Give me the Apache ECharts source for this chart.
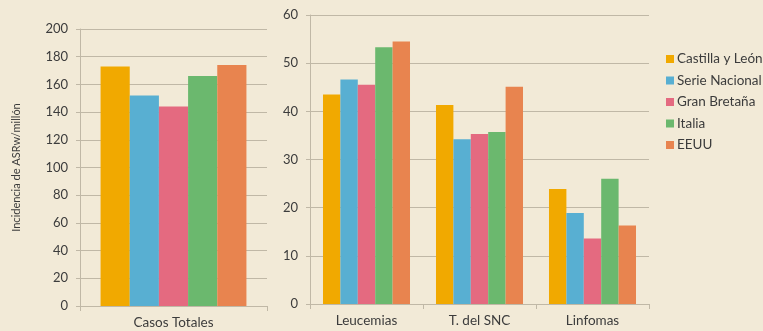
<!DOCTYPE html>
<html>
<head>
<meta charset="utf-8">
<script src="https://cdn.jsdelivr.net/npm/echarts@6/dist/echarts.min.js"></script>
<style>
  html, body { margin: 0; padding: 0; background: #f2ead7; }
  #chart { width: 763px; height: 331px; }
</style>
</head>
<body>
<div id="chart"></div>
<script>
// Incidence by region (ASRw per million)
const seriesNames = ['Castilla y León', 'Serie Nacional', 'Gran Bretaña', 'Italia', 'EEUU'];
const colors = ['#f1a900', '#58afd2', '#e46a80', '#6bb86e', '#e8844f'];

const totalCategories = ['Casos Totales'];
const totalValues = [
  [173],   // Castilla y León
  [152],   // Serie Nacional
  [144],   // Gran Bretaña
  [166],   // Italia
  [174]    // EEUU
];

const groupCategories = ['Leucemias', 'T. del SNC', 'Linfomas'];
const groupValues = [
  [43.5, 41.3, 23.9],  // Castilla y León
  [46.6, 34.2, 18.9],  // Serie Nacional
  [45.5, 35.3, 13.6],  // Gran Bretaña
  [53.3, 35.7, 26.0],  // Italia
  [54.5, 45.1, 16.3]   // EEUU
];

const yAxisTitle = 'Incidencia de ASRw/millón';

const textColor = '#3c3c3c';
const gridColor = '#c0b8a6';
const font = 'Lato, "Open Sans", sans-serif';

const chart = echarts.init(document.getElementById('chart'), null, { renderer: 'canvas' });

function valueAxis(gridIndex, max, interval, name) {
  return {
    type: 'value', gridIndex, min: 0, max, interval,
    name: name || '', nameLocation: 'middle', nameGap: 58, nameRotate: 90,
    nameTextStyle: { color: textColor, fontSize: 11, fontFamily: font },
    axisLine: { show: true, lineStyle: { color: gridColor, width: 1 } },
    axisTick: { show: true, length: 4, lineStyle: { color: gridColor } },
    axisLabel: { color: textColor, fontSize: 13, fontFamily: font, margin: 12 },
    splitLine: { show: true, lineStyle: { color: gridColor, width: 1 } }
  };
}

function categoryAxis(gridIndex, data) {
  return {
    type: 'category', gridIndex, data,
    axisLine: { show: true, lineStyle: { color: gridColor, width: 1 } },
    axisTick: { show: true, length: 5, alignWithLabel: false, lineStyle: { color: gridColor } },
    axisLabel: { color: textColor, fontSize: 13.5, fontFamily: font, margin: 10 }
  };
}

const series = [];
seriesNames.forEach((name, i) => {
  series.push({
    name, type: 'bar', xAxisIndex: 0, yAxisIndex: 0,
    data: totalValues[i], barGap: '0%', barCategoryGap: '22%',
    itemStyle: { color: colors[i] }
  });
});
seriesNames.forEach((name, i) => {
  series.push({
    name, type: 'bar', xAxisIndex: 1, yAxisIndex: 1,
    data: groupValues[i], barGap: '0%', barCategoryGap: '23%',
    itemStyle: { color: colors[i] }
  });
});

chart.setOption({
  backgroundColor: '#f2ead7',
  animation: false,
  legend: {
    orient: 'vertical', left: 661, top: 47,
    itemWidth: 8, itemHeight: 8, itemGap: 7.5,
    icon: 'rect',
    data: seriesNames,
    textStyle: { color: textColor, fontSize: 13.5, fontFamily: font, padding: [0, 0, 0, -2] }
  },
  grid: [
    { left: 80, top: 29, width: 187, height: 277 },
    { left: 310, top: 15, width: 339, height: 289 }
  ],
  xAxis: [categoryAxis(0, totalCategories), categoryAxis(1, groupCategories)],
  yAxis: [valueAxis(0, 200, 20, yAxisTitle), valueAxis(1, 60, 10)],
  series
});
</script>
</body>
</html>
